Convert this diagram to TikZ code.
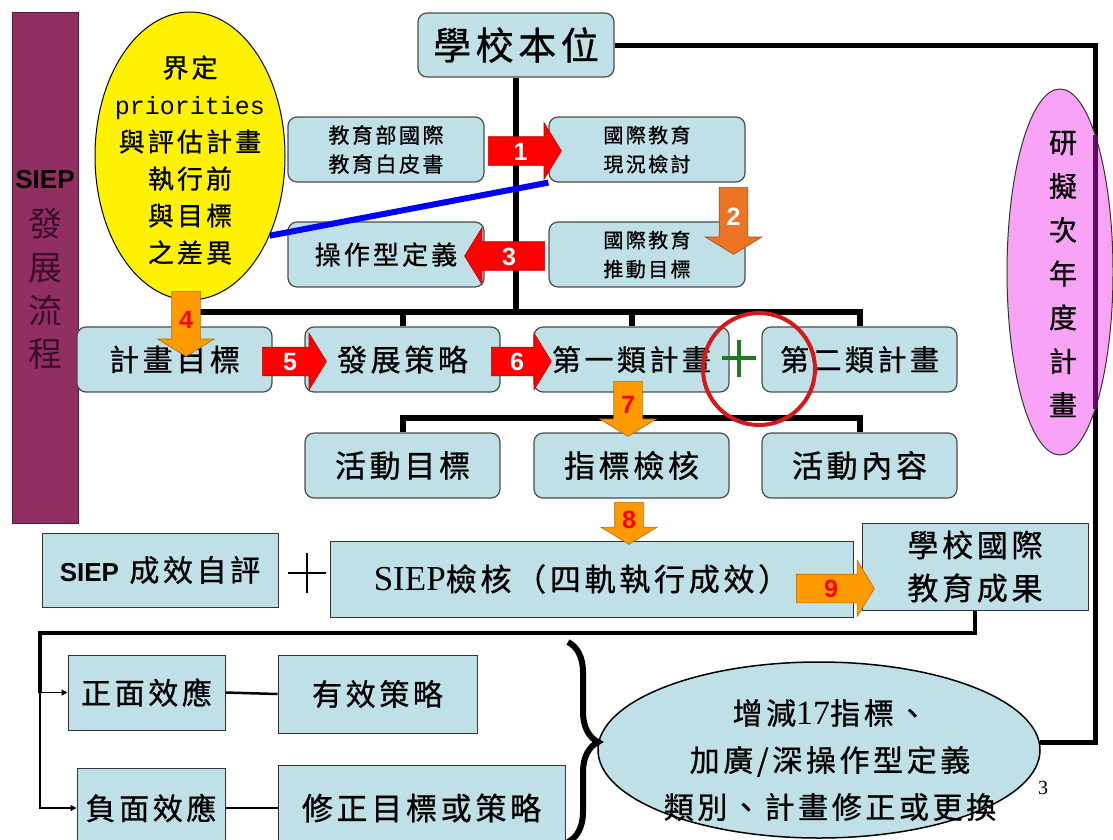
\documentclass[tikz,border=0pt]{standalone}
\usepackage{fontspec}
\setmainfont{Noto Sans CJK TC}
\newfontfamily\kaiti[LetterSpace=12, FakeBold=0.8]{Noto Sans CJK TC}
\newfontfamily\serifrm{Liberation Serif}
\newfontfamily\monott{Liberation Mono}
\newfontfamily\arialsf{Liberation Sans}
\usetikzlibrary{shapes.geometric,shapes.arrows,arrows.meta,calc,backgrounds,decorations.pathreplacing}
\definecolor{boxblue}{HTML}{BEE0E6}
\definecolor{siepmaroon}{HTML}{912F61}
\definecolor{barink}{HTML}{3A0E28}
\definecolor{pinkfill}{HTML}{F9A3F7}
\definecolor{arrred}{HTML}{FF0000}
\definecolor{arrorange}{HTML}{FF9A00}
\definecolor{arrdark}{HTML}{EC7424}
\definecolor{plusgreen}{HTML}{1E7B1E}
\definecolor{ringred}{HTML}{D81818}
\definecolor{linepurple}{HTML}{5E0A5E}

\begin{document}
\begin{tikzpicture}[x=1pt, y=-1pt,
  rbox/.style={draw=black!70, fill=boxblue, line width=1.2pt, rounded corners=9pt,
    inner sep=0pt, align=center, minimum width=195pt, minimum height=65pt},
  sbox/.style={draw=black!80, fill=boxblue, line width=1pt, inner sep=0pt, align=center},
  blockarr/.style={single arrow, single arrow head extend=14pt, single arrow tip angle=117,
    text width=18pt, text height=18pt, text depth=0pt, inner sep=5pt, align=center,
    line width=0.6pt, font=\arialsf\bfseries\fontsize{25}{25}\selectfont},
  redarr/.style={blockarr, fill=arrred, draw=arrred!75!black, text=white},
  orarr/.style={blockarr, fill=arrorange, draw=arrorange!70!black, text=arrred},
  darkarr/.style={blockarr, fill=arrdark, draw=arrdark!70!black, text=white},
  trunk/.style={line width=6pt},
  loopline/.style={line width=5pt},
  fbline/.style={line width=3.5pt},
  fbarrow/.style={line width=1.2pt, -{Triangle[length=6pt,width=6pt]}},
  blueline/.style={line width=6pt, color=blue},
  oval/.style={ellipse, inner sep=0pt}]
  \useasboundingbox (0,0) rectangle (1113,839);
  \coordinate (bar) at (0,312);
  \coordinate (bar2) at (0,418);
  \coordinate (fbk) at (40,633);

  \node[draw=siepmaroon!60!black, fill=siepmaroon, minimum width=66pt, minimum height=511pt, inner sep=0pt] (siepbar) at (45,267.5) {};
  \node[font=\arialsf\bfseries\fontsize{26}{26}\selectfont] (bartitle) at (45,180) {SIEP};
  \node[font=\fontsize{34}{43.3}\selectfont, text=barink, align=center] (barstep) at (45,289) {發\\展\\流\\程};

  \node[rbox, minimum width=196pt, minimum height=64pt, font=\kaiti\fontsize{38}{38}\selectfont] (school) at (516,45) {學校本位};
  \node[rbox, minimum width=196pt, font=\kaiti\fontsize{21}{29}\selectfont] (paper) at (386,149.5) {教育部國際\\教育白皮書};
  \node[rbox, minimum width=196pt, font=\kaiti\fontsize{20}{29}\selectfont] (review) at (647,149.5) {國際教育\\現況檢討};
  \node[rbox, minimum width=196pt, font=\kaiti\fontsize{26}{26}\selectfont] (opdef) at (386,254.5) {操作型定義};
  \node[rbox, minimum width=196pt, font=\kaiti\fontsize{20}{29}\selectfont] (aims) at (647,254.5) {國際教育\\推動目標};

  \node[rbox, font=\kaiti\fontsize{30}{30}\selectfont] (target) at (174.5,359.5) {計畫目標};
  \node[rbox, font=\kaiti\fontsize{30}{30}\selectfont] (strategy) at (402.5,359.5) {發展策略};
  \node[rbox, font=\kaiti\fontsize{29}{29}\selectfont] (plan1) at (631.5,359.5) {第一類計畫};
  \node[rbox, font=\kaiti\fontsize{29}{29}\selectfont] (plan2) at (859.5,359.5) {第二類計畫};
  \node[rbox, font=\kaiti\fontsize{31}{31}\selectfont] (actgoal) at (402.5,465.5) {活動目標};
  \node[rbox, font=\kaiti\fontsize{31}{31}\selectfont] (check) at (631.5,465.5) {指標檢核};
  \node[rbox, font=\kaiti\fontsize{31}{31}\selectfont] (actcont) at (859.5,465.5) {活動內容};

  \node[sbox, minimum width=236pt, minimum height=74pt, font=\kaiti\fontsize{30}{30}\selectfont] (selfeval) at (160,570) {{\arialsf\bfseries\fontsize{26}{26}\selectfont SIEP} 成效自評};
  \node[sbox, minimum width=523pt, minimum height=76pt, font=\kaiti\fontsize{31}{31}\selectfont] (siepcheck) at (591.5,579) {{\serifrm\fontsize{35}{35}\selectfont SIEP}檢核（四軌執行成效）\hspace*{20pt}};
  \node[sbox, minimum width=226pt, minimum height=87pt, font=\kaiti\fontsize{31}{43}\selectfont] (outcome) at (975,566.5) {學校國際\\教育成果};
  \node[sbox, minimum width=157pt, minimum height=75pt, font=\kaiti\fontsize{30}{30}\selectfont] (positive) at (146.5,692.5) {正面效應};
  \node[sbox, minimum width=199pt, minimum height=78pt, font=\kaiti\fontsize{30}{30}\selectfont] (effective) at (377.5,694) {有效策略};
  \node[sbox, minimum width=148pt, minimum height=80pt, font=\kaiti\fontsize{30}{30}\selectfont] (negative) at (151,808) {負面效應};
  \node[sbox, minimum width=287pt, minimum height=86pt, font=\kaiti\fontsize{31}{31}\selectfont] (revise) at (421.5,808) {修正目標或策略};

  \node[oval, draw, line width=1pt, fill=yellow, minimum width=190pt, minimum height=288pt] (gap) at (190,156) {};
  \node[font=\kaiti\fontsize{26}{37}\selectfont, align=center] (gaptxt) at (190,160) {界定\\{\monott\fontsize{25}{37}\selectfont priorities}\\與評估計畫\\執行前\\與目標\\之差異};
  \node[oval, draw=black!80, line width=1pt, fill=pinkfill, minimum width=106pt, minimum height=366pt] (nextyr) at (1060,272) {};
  \node[font=\kaiti\fontsize{28}{43.8}\selectfont, align=center] (nextyrtxt) at (1063,274) {研\\擬\\次\\年\\度\\計\\畫};
  \node[oval, draw, line width=1.5pt, fill=boxblue, minimum width=442pt, minimum height=176pt] (adjust) at (819,750) {};
  \node[font=\kaiti\fontsize{30}{47}\selectfont, align=center] (adjusttxt) at (830,760) {增減{\serifrm\fontsize{34}{34}\selectfont 17}指標、\\加廣/深操作型定義\\類別、計畫修正或更換};
  \node[font=\serifrm\fontsize{20}{20}\selectfont] (pagenum) at (1043,788) {3};

  \begin{scope}[on background layer]
    \draw[loopline] (school.east) -| ($(adjust.2)+(56,0)$) -- (adjust.2);
    \draw[trunk] (school.south) -- (school.south |- bar);
    \draw[trunk] (target.north |- bar) -- (plan2.north |- bar) -- (plan2.north);
    \draw[trunk] (strategy.north |- bar) -- (strategy.north);
    \draw[trunk] (plan1.north |- bar) -- (plan1.north);
    \draw[trunk] (actgoal.north) -- (actgoal.north |- bar2) -- (actcont.north |- bar2) -- (actcont.north);
    \draw[trunk] (plan1.south) -- (check.north);
  \end{scope}
  \draw[loopline, color=linepurple] (1095,135) -- (1095,409);

  \draw[blueline] (review.south west) -- (gap.-45);
  \draw[line width=4pt, color=ringred] (759,369) circle[radius=56pt];

  \node[redarr, minimum height=73pt] (ar1) at (520.5,151) {1};
  \node[darkarr, minimum height=67pt, shape border rotate=270] (ar2) at (733.5,216.5) {2};
  \node[redarr, minimum height=80pt, shape border rotate=180] (ar3) at (509,256) {3};
  \node[orarr, minimum height=65pt, shape border rotate=270] (ar4) at (186,319.5) {4};
  \node[redarr, minimum height=64pt] (ar5) at (290,361.5) {5};
  \node[redarr, minimum height=60pt] (ar6) at (517,361.5) {6};
  \node[orarr, minimum height=55pt, shape border rotate=270] (ar7) at (628,404.5) {7};
  \node[orarr, minimum height=42pt, shape border rotate=270] (ar8) at (629,519) {8};
  \node[orarr, minimum height=78pt] (ar9) at (831,588.5) {9};

  \draw[line width=3.5pt, color=plusgreen] (722,358) -- (756,358) (739,340) -- (739,377);
  \draw[line width=1.5pt] (288,573) -- (326,573) (307,553) -- (307,593);

  \draw[fbline] (outcome.south) |- (fbk) -- (fbk |- positive.west);
  \draw[fbarrow] (fbk |- positive.west) -- (positive.west);
  \draw[fbarrow] (fbk |- positive.west) |- (negative.west);
  \draw[line width=2.5pt] (positive.east) -- (effective.west);
  \draw[line width=1.2pt] (negative.east) -- (revise.west);
  \draw[line width=6pt, decorate, decoration={brace, amplitude=30pt}] (568,642) -- (568,842);
\end{tikzpicture}
\end{document}
